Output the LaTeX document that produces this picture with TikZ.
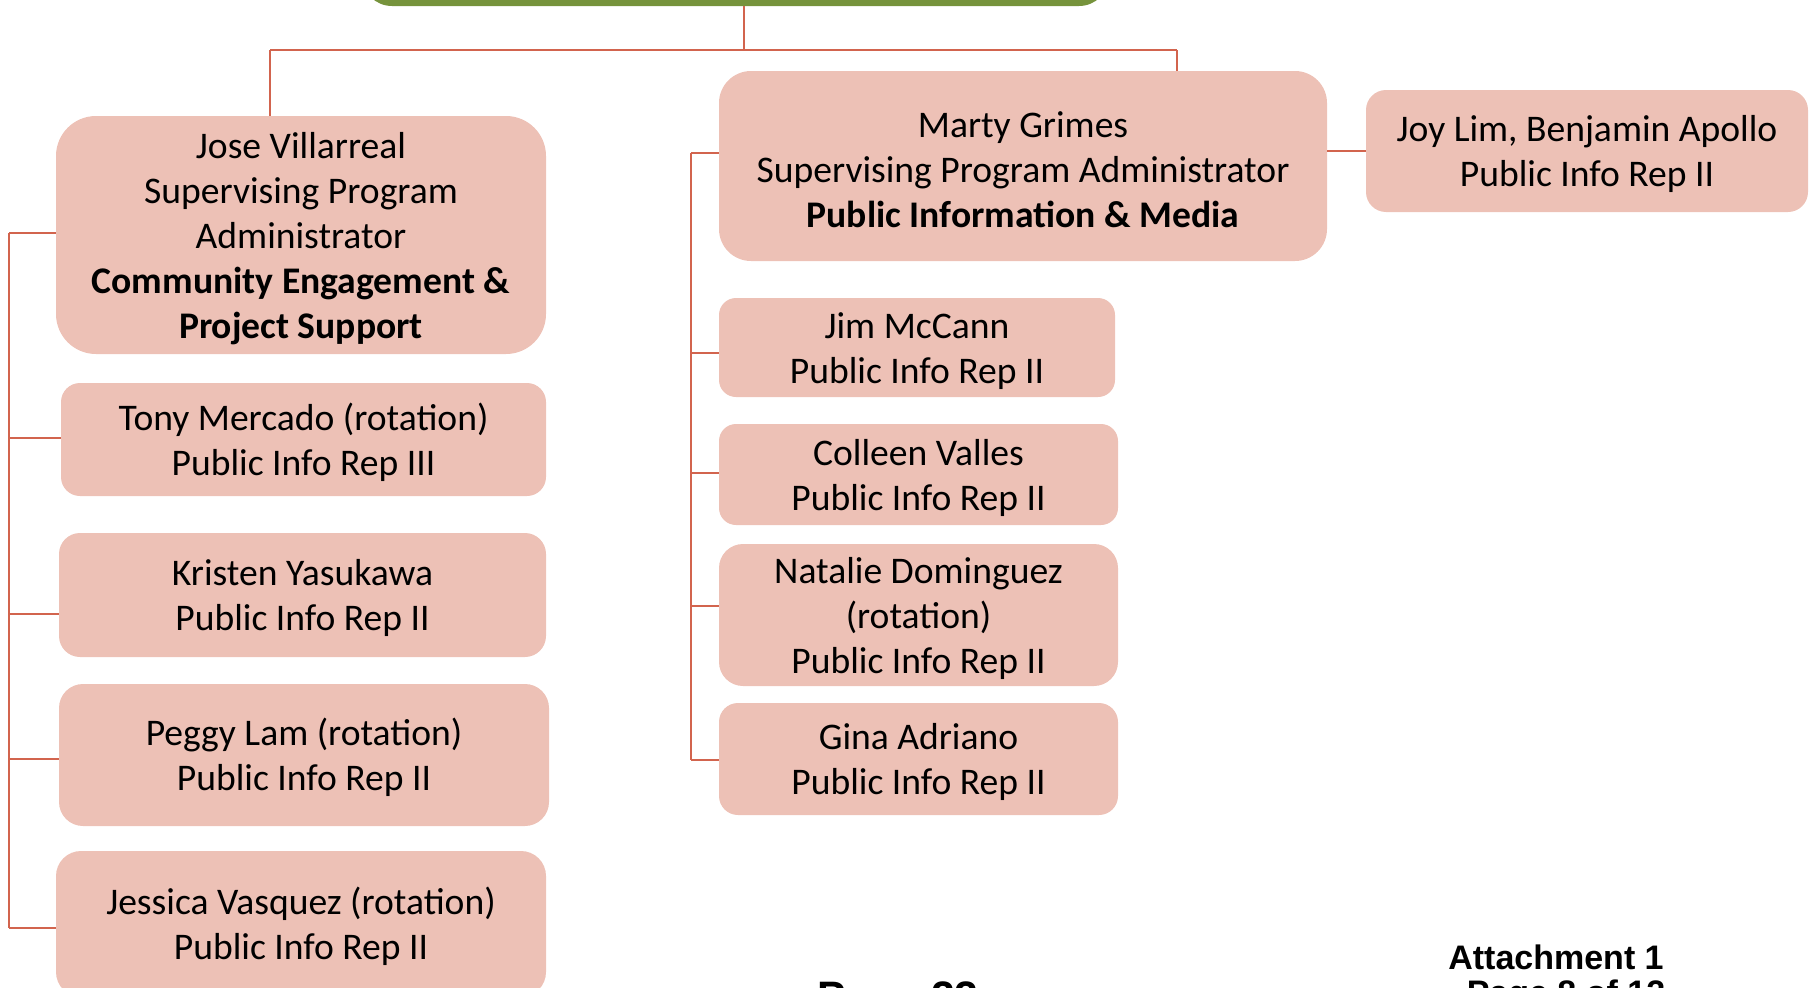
\documentclass[tikz,border=0pt]{standalone}
\usepackage{fontspec}
\setmainfont{Carlito}
\newfontfamily\arialfont{Liberation Sans}
\definecolor{boxpink}{HTML}{EDC1B6}
\definecolor{linkred}{HTML}{D2644E}
\definecolor{topgreen}{HTML}{76933C}
\newcommand{\firstlinepad}{\rule{0pt}{33pt}}
\begin{document}
\begin{tikzpicture}[x=1pt,y=-1pt,
  box/.style={fill=boxpink, draw=none, align=center, inner sep=0pt,
    font=\fontsize{37.6}{45}\selectfont},
  link/.style={draw=linkred, line width=2.2pt},
  foot/.style={font=\arialfont\bfseries\fontsize{34}{35}\selectfont, inner sep=0pt, anchor=base}]
\useasboundingbox (0,0) rectangle (1816,988);

% top green box (cut off)
\node[fill=topgreen, draw=none, rounded corners=30pt, minimum width=747pt, minimum height=80pt, inner sep=0pt] (top) at (735.5,-34) {};

% left branch
\node[box, minimum width=490pt, minimum height=238pt, rounded corners=40pt] (jose) at (301,235)
  {\firstlinepad Jose Villarreal\\Supervising Program\\Administrator\\\textbf{Community Engagement \&}\\\textbf{Project Support}};
\node[box, minimum width=485pt, minimum height=113pt, rounded corners=19pt] (tony) at (303.5,439.5)
  {\firstlinepad Tony Mercado (rotation)\\Public Info Rep III};
\node[box, minimum width=487pt, minimum height=124pt, rounded corners=21pt] (kristen) at (302.5,595)
  {\firstlinepad Kristen Yasukawa\\Public Info Rep II};
\node[box, minimum width=490pt, minimum height=142pt, rounded corners=24pt] (peggy) at (304,755)
  {\firstlinepad Peggy Lam (rotation)\\Public Info Rep II};
\node[box, minimum width=490pt, minimum height=146pt, rounded corners=25pt] (jessica) at (301,924)
  {\firstlinepad Jessica Vasquez (rotation)\\Public Info Rep II};

% right branch
\node[box, minimum width=608pt, minimum height=190pt, rounded corners=32pt] (marty) at (1023,166)
  {\firstlinepad Marty Grimes\\Supervising Program Administrator\\\textbf{Public Information \& Media}};
\node[box, minimum width=442pt, minimum height=122pt, rounded corners=20pt] (joy) at (1587,151)
  {\firstlinepad Joy Lim, Benjamin Apollo\\Public Info Rep II};
\node[box, minimum width=396pt, minimum height=99pt, rounded corners=17pt] (jim) at (917,347.5)
  {\firstlinepad Jim McCann\\Public Info Rep II};
\node[box, minimum width=399pt, minimum height=101pt, rounded corners=17pt] (colleen) at (918.5,474.5)
  {\firstlinepad Colleen Valles\\Public Info Rep II};
\node[box, minimum width=399pt, minimum height=142pt, rounded corners=24pt] (natalie) at (918.5,615)
  {\firstlinepad Natalie Dominguez\\(rotation)\\Public Info Rep II};
\node[box, minimum width=399pt, minimum height=112pt, rounded corners=19pt] (gina) at (918.5,759)
  {\firstlinepad Gina Adriano\\Public Info Rep II};

% top connectors
\coordinate (hub) at (744,50);
\coordinate (hl) at (270,50);
\coordinate (hr) at (1177,50);
\draw[link] (top.south -| hub) -- (hub);
\draw[link] (hl) -- (hr);
\draw[link] (hl) -- (jose.north -| hl);
\draw[link] (hr) -- (marty.north -| hr);

% left spine
\coordinate (ls1) at (9,233);
\coordinate (ls2) at (9,438);
\coordinate (ls3) at (9,614);
\coordinate (ls4) at (9,759);
\coordinate (ls5) at (9,928);
\draw[link] (ls1) -- (ls5);
\draw[link] (ls1) -- (jose.west |- ls1);
\draw[link] (ls2) -- (tony.west |- ls2);
\draw[link] (ls3) -- (kristen.west |- ls3);
\draw[link] (ls4) -- (peggy.west |- ls4);
\draw[link] (ls5) -- (jessica.west |- ls5);

% right spine
\coordinate (rs1) at (691,153);
\coordinate (rs2) at (691,353);
\coordinate (rs3) at (691,473);
\coordinate (rs4) at (691,606);
\coordinate (rs5) at (691,760);
\draw[link] (rs1) -- (rs5);
\draw[link] (rs1) -- (marty.west |- rs1);
\draw[link] (rs2) -- (jim.west |- rs2);
\draw[link] (rs3) -- (colleen.west |- rs3);
\draw[link] (rs4) -- (natalie.west |- rs4);
\draw[link] (rs5) -- (gina.west |- rs5);

% marty to joy
\coordinate (mj) at (1327,151);
\draw[link] (marty.east |- mj) -- (joy.west |- mj);

% footer texts (partly outside the page)
\node[foot] (att) at (1556,969) {Attachment 1};
\node[foot] (pg) at (1566,1004) {Page 8 of 12};
\node[foot, font=\arialfont\bfseries\fontsize{42.6}{44}\selectfont] (p22) at (898,1011) {Page 22};
\end{tikzpicture}
\end{document}
